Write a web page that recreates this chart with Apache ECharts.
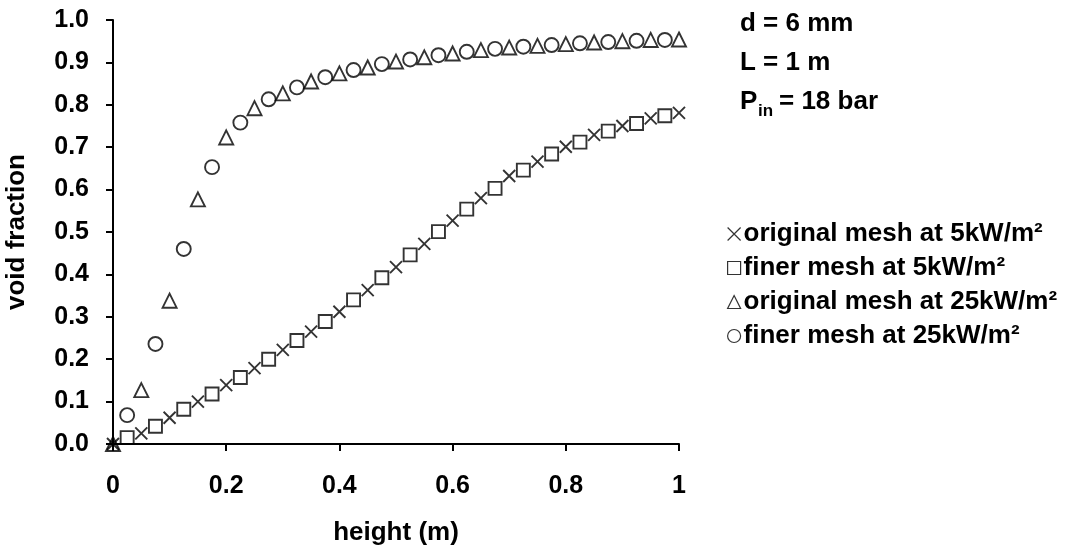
<!DOCTYPE html>
<html>
<head>
<meta charset="utf-8">
<script src="https://cdn.jsdelivr.net/npm/echarts@6/dist/echarts.min.js"></script>
<style>
  html, body { margin: 0; padding: 0; background: #fff; }
  #chart { width: 1071px; height: 550px; }
</style>
</head>
<body>
<div id="chart"></div>
<script>
// original mesh: every 0.05 m, finer mesh: shifted by 0.025 m
var xOriginal = [0, 0.05, 0.1, 0.15, 0.2, 0.25, 0.3, 0.35, 0.4, 0.45, 0.5,
                 0.55, 0.6, 0.65, 0.7, 0.75, 0.8, 0.85, 0.9, 0.95, 1];
var xFiner = [0.025, 0.075, 0.125, 0.175, 0.225, 0.275, 0.325, 0.375, 0.425, 0.475,
              0.525, 0.575, 0.625, 0.675, 0.725, 0.775, 0.825, 0.875, 0.925, 0.975];

var orig5 = [0, 0.025, 0.062, 0.100, 0.139, 0.179, 0.222, 0.265, 0.312, 0.363, 0.417,
             0.472, 0.527, 0.580, 0.632, 0.666, 0.701, 0.729, 0.750, 0.768, 0.781];
var finer5 = [0.015, 0.042, 0.082, 0.118, 0.157, 0.200, 0.244, 0.289, 0.340, 0.392,
              0.446, 0.501, 0.554, 0.603, 0.646, 0.684, 0.712, 0.738, 0.756, 0.774];
var orig25 = [0, 0.127, 0.338, 0.577, 0.723, 0.792, 0.827, 0.855, 0.874, 0.888, 0.902,
              0.912, 0.921, 0.929, 0.935, 0.939, 0.943, 0.947, 0.950, 0.953, 0.954];
var finer25 = [0.068, 0.236, 0.460, 0.653, 0.758, 0.813, 0.841, 0.865, 0.882, 0.896,
               0.907, 0.917, 0.925, 0.932, 0.937, 0.941, 0.945, 0.948, 0.951, 0.953];

var seriesNames = ["original mesh at 5kW/m\u00b2", "finer mesh at 5kW/m\u00b2",
                   "original mesh at 25kW/m\u00b2", "finer mesh at 25kW/m\u00b2"];

var FONT = "'Liberation Sans', Arial, sans-serif";
var FS = 25;      // axis text
var FS_R = 26;    // legend + notes on the right
var crossPath = "path://M0,0L10,10M10,0L0,10";

function pairs(xs, ys) {
  var out = [];
  for (var i = 0; i < xs.length; i++) {
    out.push([xs[i], ys[i]]);
  }
  return out;
}

function markerSeries(name, xs, ys, symbol, size) {
  return {
    name: name,
    type: "scatter",
    data: pairs(xs, ys),
    symbol: symbol,
    symbolSize: size,
    itemStyle: { color: "rgba(255,255,255,0)", borderColor: "#000", borderWidth: 1.9 },
    emphasis: { disabled: true }
  };
}

var chart = echarts.init(document.getElementById("chart"));
chart.setOption({
  backgroundColor: "#fff",
  animation: false,
  grid: { left: 113, top: 20, width: 566, height: 424, outerBoundsMode: "none", containLabel: false },
  xAxis: {
    type: "value",
    min: 0,
    max: 1,
    interval: 0.2,
    name: "height (m)",
    nameLocation: "middle",
    nameGap: 76,
    nameTextStyle: { fontFamily: FONT, fontWeight: "bold", fontSize: FS_R, color: "#000" },
    axisLine: { lineStyle: { color: "#000", width: 2 } },
    axisTick: { inside: false, length: 7, lineStyle: { color: "#000", width: 2 } },
    axisLabel: { margin: 30, fontFamily: FONT, fontWeight: "bold", fontSize: FS, color: "#000" },
    splitLine: { show: false }
  },
  yAxis: {
    type: "value",
    min: 0,
    max: 1,
    interval: 0.1,
    name: "void fraction",
    nameLocation: "middle",
    nameGap: 83,
    nameTextStyle: { fontFamily: FONT, fontWeight: "bold", fontSize: FS_R, color: "#000" },
    axisLine: { show: true, lineStyle: { color: "#000", width: 2 } },
    axisTick: { show: true, inside: false, length: 7, lineStyle: { color: "#000", width: 2 } },
    axisLabel: {
      margin: 24, fontFamily: FONT, fontWeight: "bold", fontSize: FS, color: "#000",
      formatter: function (v) { return v.toFixed(1); }
    },
    splitLine: { show: false }
  },
  legend: {
    orient: "vertical",
    left: 727,
    top: 221,
    padding: 0,
    itemGap: 8,
    itemWidth: 13,
    itemHeight: 13,
    selectedMode: false,
    textStyle: { fontFamily: FONT, fontWeight: "bold", fontSize: FS_R, color: "#000", padding: [0, 0, 0, -2] },
    itemStyle: { borderWidth: 1.2 },
    data: seriesNames
  },
  graphic: [
    { type: "text", left: 740, top: 11,
      style: { text: "d = 6 mm", font: "bold " + FS_R + "px " + FONT, fill: "#000" } },
    { type: "text", left: 740, top: 50,
      style: { text: "L = 1 m", font: "bold " + FS_R + "px " + FONT, fill: "#000" } },
    { type: "text", left: 740, top: 89,
      style: { text: "P", font: "bold " + FS_R + "px " + FONT, fill: "#000" } },
    { type: "text", left: 758, top: 103,
      style: { text: "in", font: "bold 17px " + FONT, fill: "#000" } },
    { type: "text", left: 779, top: 89,
      style: { text: "= 18 bar", font: "bold " + FS_R + "px " + FONT, fill: "#000" } }
  ],
  series: [
    markerSeries(seriesNames[0], xOriginal, orig5, crossPath, 12),
    markerSeries(seriesNames[1], xFiner, finer5, "rect", 13),
    markerSeries(seriesNames[2], xOriginal, orig25, "triangle", 14),
    markerSeries(seriesNames[3], xFiner, finer25, "circle", 14)
  ]
});
</script>
</body>
</html>
